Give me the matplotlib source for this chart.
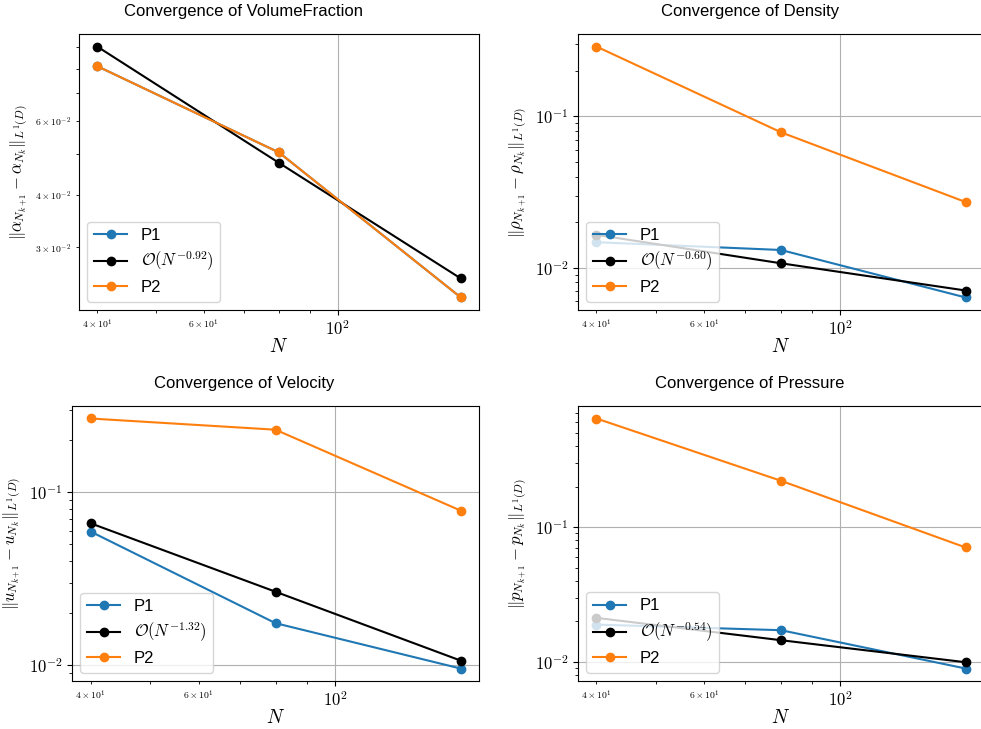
import numpy as np
import matplotlib
matplotlib.use("Agg")
import matplotlib.pyplot as plt
from matplotlib import ticker

plt.rcParams['font.family'] = ['Liberation Sans', 'DejaVu Sans']
plt.rcParams['mathtext.fontset'] = 'cm'
plt.rcParams['xtick.labelsize'] = 12
plt.rcParams['ytick.labelsize'] = 12

# grid resolutions
N = [40, 80, 160]

# L1 differences between successive resolutions
vf_p1 = [0.0811, 0.0505, 0.0228]
vf_p2 = [0.0811, 0.0505, 0.0228]
vf_ref = [0.0903, 0.0477, 0.0253]

rho_p1 = [0.01475, 0.0131, 0.00636]
rho_p2 = [0.290, 0.0786, 0.0272]
rho_ref = [0.0165, 0.0107, 0.00707]

u_p1 = [0.0593, 0.0175, 0.00957]
u_p2 = [0.267, 0.230, 0.0784]
u_ref = [0.0662, 0.0266, 0.01064]

p_p1 = [0.0189, 0.01717, 0.00892]
p_p2 = [0.641, 0.221, 0.0707]
p_ref = [0.0212, 0.01447, 0.00993]

rates = [0.92, 0.60, 1.32, 0.54]
names = ['VolumeFraction', 'Density', 'Velocity', 'Pressure']
symbols = [r'\alpha', r'\rho', r'u', r'p']


class MathLogFormatter(ticker.LogFormatterSciNotation):
    # same labels as the default, but typeset fully in math font
    def __call__(self, x, pos=None):
        return super().__call__(x, pos).replace(r'\mathdefault', '')


W, H = 981, 729
fig = plt.figure(figsize=(W / 100, H / 100), dpi=100)

# axes boxes in pixels: left, right, top, bottom, title centre
boxes = [(79, 479, 34, 310, 244), (578, 984, 34, 310, 750),
         (72, 479, 406, 681, 244), (578, 984, 406, 681, 750)]

panels = [(vf_p1, vf_ref, vf_p2), (rho_p1, rho_ref, rho_p2),
          (u_p1, u_ref, u_p2), (p_p1, p_ref, p_p2)]

for i in range(4):
    l, r, t, b, tc = boxes[i]
    ax = fig.add_axes([l / W, 1 - b / H, (r - l) / W, (b - t) / H])
    p1, ref, p2 = panels[i]
    ax.loglog(N, p1, 'o-', color='C0', label='P1')
    ax.loglog(N, ref, 'o-', color='k', label=r'$\mathcal{O}(N^{-%.2f})$' % rates[i])
    ax.loglog(N, p2, 'o-', color='C1', label='P2')
    ax.grid(True, which='major')
    for axis in (ax.xaxis, ax.yaxis):
        axis.set_major_formatter(MathLogFormatter(labelOnlyBase=True))
        axis.set_minor_formatter(MathLogFormatter(labelOnlyBase=False))
    ax.tick_params(which='minor', labelsize=7)
    ax.set_title('Convergence of %s' % names[i], fontsize=12, pad=13,
                 x=(tc - l) / (r - l))
    ax.set_xlabel(r'$N$', fontsize=14, labelpad=0)
    s = symbols[i]
    ax.set_ylabel(r'$\|%s_{N_{k+1}} - %s_{N_k}\|_{L^1(D)}$' % (s, s), fontsize=12)
    ax.legend(loc='lower left', fontsize=12, labelspacing=0.4)

fig.savefig('out.png', dpi=100)
